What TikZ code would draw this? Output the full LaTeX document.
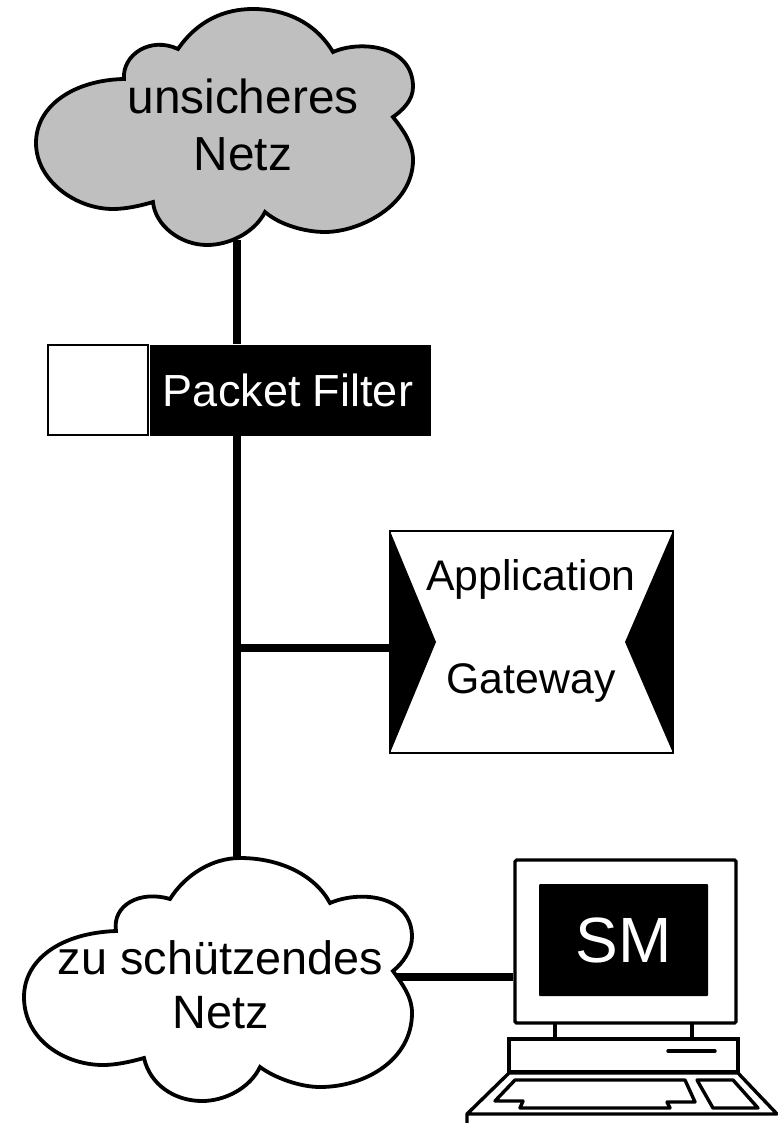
\documentclass[tikz,border=0pt]{standalone}
\usepackage{fontspec}
\setmainfont{Liberation Sans}
\tikzset{
  link/.style={line width=7.5pt,black},
  cloudline/.style={line width=3.8pt,black,line join=miter},
  pcline/.style={line width=3.4pt,black,line join=round,line cap=round},
  label/.style={inner sep=0pt,align=center,text=black},
}
\begin{document}
\begin{tikzpicture}[x=1pt,y=-1pt]
\useasboundingbox (0,0) rectangle (778,1123);
\fill[white] (0,0) rectangle (778,1123);
% anchors
\coordinate (topc) at (237,240);
\coordinate (botc) at (237,862);
\coordinate (junc) at (237,648);
\coordinate (cloudport) at (392,977);
% boxes
\node[draw=black,line width=2pt,fill=white,minimum width=100pt,minimum height=90pt,inner sep=0pt] (pfwhite) at (98,390) {};
\node[fill=black,minimum width=281pt,minimum height=91pt,inner sep=0pt] (pf) at (290,390) {};
\node[label,text=white,font=\fontsize{45}{54}\selectfont] (pft) at (288,390) {Packet Filter};
\node[draw=black,line width=2.7pt,fill=white,minimum width=283pt,minimum height=222pt,inner sep=0pt] (gw) at (531.5,642) {};
\node[draw=black,line width=3.2pt,fill=white,minimum width=221pt,minimum height=163pt,inner sep=0pt,rounded corners=1.5pt] (mon) at (625.5,941.5) {};
% connectors
\draw[link] (topc) -- (pf.north -| topc);
\draw[link] (pf.south -| botc) -- (botc);
\draw[link] (junc) -- (gw.west |- junc);
\draw[link] (cloudport) -- (mon.west |- cloudport);
% gateway wedges
\fill[black] (390,531) -- (436,642) -- (390,753) -- cycle;
\fill[black] (673,531) -- (625,642) -- (673,753) -- cycle;
\node[label,font=\fontsize{42.8}{103}\selectfont] (gwt) at (531,631) {Application\\Gateway};
% upper cloud
\draw[cloudline,fill=black!25]
  (124,79) .. controls (122,55) and (150,36) .. (178,49)
  .. controls (198,20) and (225,9) .. (253,9)
  .. controls (285,9) and (315,22) .. (333,52)
  .. controls (360,40) and (413,45) .. (413,87)
  .. controls (413,100) and (403,110) .. (393,117)
  .. controls (403,130) and (413,143) .. (413,160)
  .. controls (413,205) and (360,232) .. (325,232)
  .. controls (305,232) and (280,225) .. (265,212)
  .. controls (255,232) and (230,245) .. (207,245)
  .. controls (180,245) and (155,225) .. (153,202)
  .. controls (140,206) and (125,209) .. (113,209)
  .. controls (75,209) and (36,180) .. (36,143)
  .. controls (36,105) and (75,80) .. (124,79) -- cycle;
\node[label,font=\fontsize{47.8}{57}\selectfont] (topt) at (243,125) {unsicheres\\Netz};
% lower cloud
\draw[cloudline,fill=white]
  (116,931) .. controls (112,905) and (140,890) .. (170,899)
  .. controls (185,875) and (212,858) .. (240,858)
  .. controls (280,858) and (315,875) .. (330,903)
  .. controls (360,890) and (412,895) .. (412,937)
  .. controls (412,950) and (403,963) .. (393,971)
  .. controls (403,985) and (412,997) .. (412,1013)
  .. controls (412,1060) and (365,1087) .. (320,1087)
  .. controls (300,1087) and (275,1078) .. (260,1067)
  .. controls (250,1088) and (225,1101) .. (202,1101)
  .. controls (175,1101) and (150,1085) .. (144,1058)
  .. controls (130,1062) and (115,1065) .. (103,1065)
  .. controls (65,1065) and (24,1040) .. (24,997)
  .. controls (24,960) and (60,933) .. (116,931) -- cycle;
\node[label,font=\fontsize{46.8}{54}\selectfont] (bott) at (220.5,985) {zu schützendes\\Netz};
% computer
\node[fill=black,text=white,minimum width=169pt,minimum height=112pt,inner sep=0pt,rounded corners=1pt,font=\fontsize{64}{70}\selectfont] (screen) at (623.5,940) {SM};
\draw[pcline,line cap=butt] (555,1023) -- (555,1039);
\draw[pcline,line cap=butt] (692,1023) -- (692,1039);
\node[draw=black,line width=3.2pt,fill=white,minimum width=229pt,minimum height=33pt,inner sep=0pt] (base) at (623.5,1055.5) {};
\draw[pcline] (668,1051) -- (715,1051);
\draw[pcline,line cap=butt] (467,1123) -- (467,1114) -- (509,1073) -- (738,1073) -- (777,1114) -- (467,1114);
\draw[pcline] (515,1080) -- (685,1080) -- (695,1102) -- (667,1102) -- (670,1108) -- (520,1108) -- (523,1101) -- (495,1101) -- cycle;
\draw[pcline] (697,1080) -- (733,1080) -- (758,1108) -- (713,1108) -- cycle;
\end{tikzpicture}
\end{document}
